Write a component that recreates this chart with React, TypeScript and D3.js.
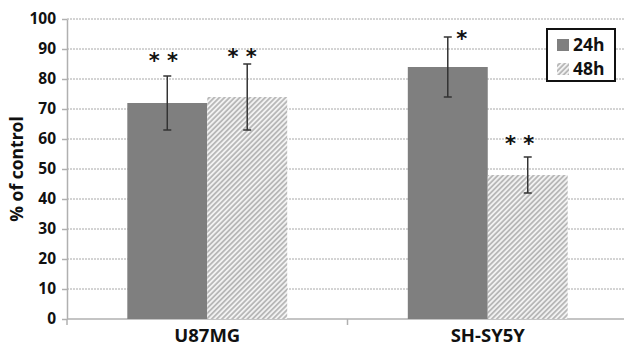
import React, { useEffect, useRef } from 'react';
import * as d3 from 'd3';

// cell lines and exposure times
const categories = ['U87MG', 'SH-SY5Y'];
const series = ['24h', '48h'];

// % of control, mean and error bar ends, per series (order = categories)
const means24 = [72, 84];
const means48 = [74, 48];
const errLow24 = [63, 74];
const errHigh24 = [81, 94];
const errLow48 = [63, 42];
const errHigh48 = [85, 54];

// significance marks: text and the level (in % units) where they sit
const sigText24 = ['* *', '*'];
const sigText48 = ['* *', '* *'];
const sigLevel24 = [87, 94.5];
const sigLevel48 = [88.5, 59.5];

const yTicks = [0, 10, 20, 30, 40, 50, 60, 70, 80, 90, 100];

const FONT = "'Open Sans', 'Liberation Sans', Arial, sans-serif";

function App() {
  const ref = useRef<SVGSVGElement>(null);

  useEffect(() => {
    drawChart();
  }, []);

  function drawChart() {
    const width = 624;
    const height = 350;
    const margin = { top: 19, right: -4, bottom: 31, left: 67 };

    const svg = d3.select(ref.current);
    svg.selectAll('*').remove();

    const defs = svg.append('defs');
    const pat = defs.append('pattern')
      .attr('id', 'hatch')
      .attr('patternUnits', 'userSpaceOnUse')
      .attr('width', 3.6)
      .attr('height', 3.6)
      .attr('patternTransform', 'rotate(45)');
    pat.append('rect').attr('width', 3.6).attr('height', 3.6).attr('fill', '#f2f2f2');
    pat.append('rect').attr('width', 1.8).attr('height', 3.6).attr('fill', '#b8b8b8');

    const x0 = d3.scaleBand()
      .domain(categories)
      .range([margin.left, width - margin.right])
      .paddingInner(0.43)
      .paddingOuter(0.215);

    const x1 = d3.scaleBand()
      .domain(series)
      .range([0, x0.bandwidth()]);

    const y = d3.scaleLinear()
      .domain([0, 100])
      .range([height - margin.bottom, margin.top]);

    // grid
    svg.append('g')
      .selectAll('line')
      .data(yTicks.filter(d => d > 0))
      .join('line')
      .attr('x1', margin.left)
      .attr('x2', width)
      .attr('y1', d => y(d))
      .attr('y2', d => y(d))
      .attr('stroke', '#a8a8a8')
      .attr('stroke-width', 1)
      .attr('stroke-dasharray', '2,1');

    // y axis
    const yAxis = svg.append('g')
      .attr('transform', `translate(${margin.left},0)`)
      .call(d3.axisLeft(y).tickValues(yTicks).tickSize(5).tickSizeOuter(0));
    yAxis.select('.domain').attr('stroke', '#b0b0b0').attr('stroke-width', 1.5);
    yAxis.selectAll('.tick line').attr('stroke', '#b0b0b0').attr('stroke-width', 1.5);
    yAxis.selectAll('.tick text')
      .attr('x', -11)
      .attr('font-family', FONT)
      .attr('font-weight', 'bold')
      .attr('font-size', 15.5)
      .attr('fill', '#111');

    // x axis
    const step = x0.step();
    const bounds = [margin.left, margin.left + step, margin.left + 2 * step];
    svg.append('line')
      .attr('x1', margin.left)
      .attr('x2', width)
      .attr('y1', y(0))
      .attr('y2', y(0))
      .attr('stroke', '#b0b0b0')
      .attr('stroke-width', 1.5);
    svg.append('g')
      .selectAll('line')
      .data(bounds)
      .join('line')
      .attr('x1', d => d)
      .attr('x2', d => d)
      .attr('y1', y(0))
      .attr('y2', y(0) + 6)
      .attr('stroke', '#b0b0b0')
      .attr('stroke-width', 1.5);

    svg.append('g')
      .selectAll('text')
      .data(categories)
      .join('text')
      .attr('x', d => (x0(d) as number) + x0.bandwidth() / 2)
      .attr('y', height - 8)
      .attr('text-anchor', 'middle')
      .attr('font-family', FONT)
      .attr('font-weight', 'bold')
      .attr('font-size', 18.5)
      .attr('fill', '#111')
      .text(d => d);

    // y title
    svg.append('text')
      .attr('transform', `translate(23,${169}) rotate(-90)`)
      .attr('text-anchor', 'middle')
      .attr('font-family', FONT)
      .attr('font-weight', 'bold')
      .attr('font-size', 17.5)
      .attr('fill', '#111')
      .text('% of control');

    const rows = categories.map((c, i) => [
      { cat: c, key: '24h', v: means24[i], lo: errLow24[i], hi: errHigh24[i], sig: sigText24[i], lvl: sigLevel24[i], dx: i === 1 ? 14 : -4 },
      { cat: c, key: '48h', v: means48[i], lo: errLow48[i], hi: errHigh48[i], sig: sigText48[i], lvl: sigLevel48[i], dx: i === 1 ? -8 : -5 },
    ]).flat();

    const bx = (d: any) => (x0(d.cat) as number) + (x1(d.key) as number);

    // bars
    svg.append('g')
      .selectAll('rect')
      .data(rows)
      .join('rect')
      .attr('x', d => bx(d))
      .attr('y', d => y(d.v))
      .attr('width', x1.bandwidth())
      .attr('height', d => y(0) - y(d.v))
      .attr('fill', d => d.key === '24h' ? '#7f7f7f' : 'url(#hatch)');

    // error bars
    const eg = svg.append('g').attr('stroke', '#333').attr('stroke-width', 1.5);
    rows.forEach(d => {
      const cx = bx(d) + x1.bandwidth() / 2;
      eg.append('line').attr('x1', cx).attr('x2', cx).attr('y1', y(d.lo)).attr('y2', y(d.hi));
      eg.append('line').attr('x1', cx - 4).attr('x2', cx + 4).attr('y1', y(d.lo)).attr('y2', y(d.lo));
      eg.append('line').attr('x1', cx - 4).attr('x2', cx + 4).attr('y1', y(d.hi)).attr('y2', y(d.hi));
    });

    // significance stars
    svg.append('g')
      .selectAll('text')
      .data(rows)
      .join('text')
      .attr('x', d => bx(d) + x1.bandwidth() / 2 + d.dx)
      .attr('y', d => y(d.lvl) + 10)
      .attr('text-anchor', 'middle')
      .attr('font-family', "'DejaVu Sans', sans-serif")
      .attr('font-weight', 'bold')
      .attr('font-size', 21)
      .attr('fill', '#111')
      .text(d => d.sig);

    // legend
    const lg = svg.append('g').attr('transform', 'translate(547,29)');
    lg.append('rect')
      .attr('width', 68)
      .attr('height', 52)
      .attr('fill', '#fff')
      .attr('stroke', '#111')
      .attr('stroke-width', 2);
    series.forEach((s, i) => {
      lg.append('rect')
        .attr('x', 10)
        .attr('y', 10 + i * 24)
        .attr('width', 12)
        .attr('height', 12)
        .attr('fill', s === '24h' ? '#7f7f7f' : 'url(#hatch)');
      lg.append('text')
        .attr('x', 26)
        .attr('y', 21.5 + i * 24)
        .attr('font-family', FONT)
        .attr('font-weight', 'bold')
        .attr('font-size', 17.5)
        .attr('fill', '#111')
        .text(s);
    });
  }

  return (
    <svg ref={ref} width={624} height={350}
      style={{ position: 'absolute', left: 0, top: 0, background: '#fff' }} />
  );
}

export default App;
